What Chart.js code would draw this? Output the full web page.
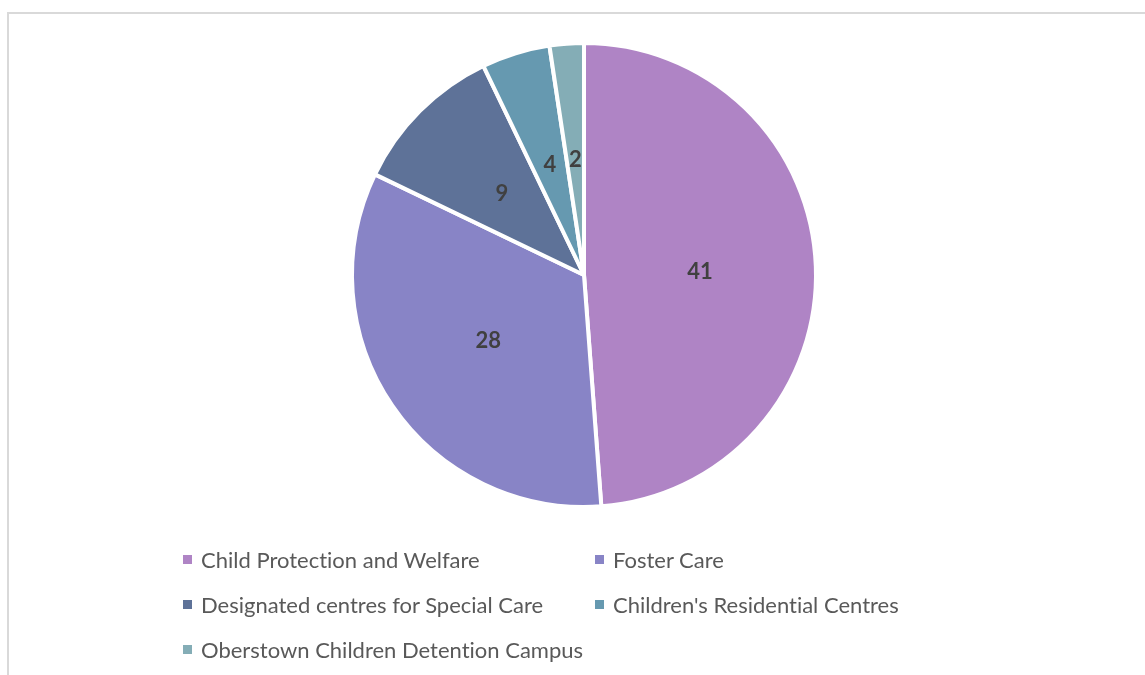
<!DOCTYPE html>
<html>
<head>
<meta charset="utf-8">
<script src="https://cdn.jsdelivr.net/npm/chart.js@4.4.1/dist/chart.umd.min.js"></script>
<style>
  html, body { margin: 0; padding: 0; background: #fff; }
  #wrap { position: relative; width: 1145px; height: 675px; overflow: hidden; }
  #frame {
    position: absolute; left: 7px; top: 12px; width: 1200px; height: 700px;
    border-left: 2px solid #d9d9d9; border-top: 2px solid #d9d9d9;
  }
  #pie { position: absolute; left: 0; top: 0; }
  #legend {
    position: absolute; left: 183px; top: 537px;
    display: grid; grid-template-columns: 412px 340px; row-gap: 0;
    font-family: Lato, "Open Sans", sans-serif; font-size: 22px; color: #595959;
    font-variant-ligatures: none;
  }
  .item { height: 45px; display: flex; align-items: center; }
  .box { width: 9px; height: 9px; margin-right: 9px; flex: none; }
</style>
</head>
<body>
<div id="wrap">
  <div id="frame"></div>
  <canvas id="pie" width="1145" height="675"></canvas>
  <div id="legend"></div>
</div>
<script>
const categories = [
  'Child Protection and Welfare',
  'Foster Care',
  'Designated centres for Special Care',
  "Children's Residential Centres",
  'Oberstown Children Detention Campus'
];
const counts = [41, 28, 9, 4, 2];
const sliceColors = ['#af84c5', '#8884c6', '#5e7298', '#6699b0', '#84adb6'];

// writes the count in the middle of each slice
const sliceLabels = {
  id: 'sliceLabels',
  afterDatasetsDraw(chart) {
    const ctx = chart.ctx;
    const meta = chart.getDatasetMeta(0);
    ctx.save();
    ctx.font = 'bold 22px Lato, "Open Sans", sans-serif';
    ctx.fillStyle = '#404040';
    ctx.textAlign = 'center';
    ctx.textBaseline = 'middle';
    meta.data.forEach((arc, i) => {
      const p = arc.getCenterPoint();
      ctx.fillText(String(chart.data.datasets[0].data[i]), p.x, p.y + 1);
    });
    ctx.restore();
  }
};

const chart = new Chart(document.getElementById('pie').getContext('2d'), {
  type: 'pie',
  data: {
    labels: categories,
    datasets: [{
      data: counts,
      backgroundColor: sliceColors,
      borderColor: '#ffffff',
      borderWidth: 4
    }]
  },
  options: {
    responsive: false,
    animation: false,
    radius: 232,
    layout: { padding: { left: 23, right: 0, top: 33, bottom: 158 } },
    plugins: {
      legend: { display: false },
      tooltip: { enabled: false }
    }
  },
  plugins: [sliceLabels]
});

// legend below the pie, two columns
const legendEl = document.getElementById('legend');
chart.data.labels.forEach((label, i) => {
  const item = document.createElement('div');
  item.className = 'item';
  const box = document.createElement('span');
  box.className = 'box';
  box.style.background = chart.data.datasets[0].backgroundColor[i];
  const txt = document.createElement('span');
  txt.textContent = label;
  item.appendChild(box);
  item.appendChild(txt);
  legendEl.appendChild(item);
});
</script>
</body>
</html>
